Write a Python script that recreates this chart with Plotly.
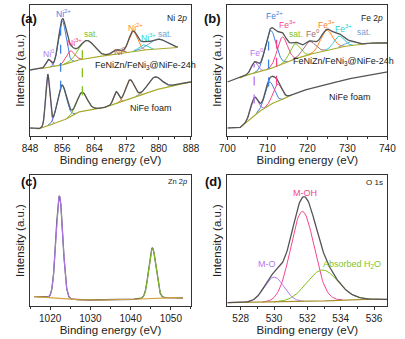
import numpy as np
import plotly.graph_objects as go

W, H = 405, 339

# ---------------- data ----------------
# Panel (a) Ni 2p  -- upper: FeNiZn/FeNi3@NiFe-24h, lower: NiFe foam
a_up_bg_E = [848, 852, 856, 860, 864, 868, 872, 876, 880, 884.7]
a_up_bg_I = [66, 68, 71, 76, 79, 81, 84, 86, 87, 88.5]
a_up_species = ["Ni0", "Ni2+", "Ni3+", "sat", "Ni0b", "Ni2+b", "Ni3+b", "satb"]
a_up_center = [852.6, 856.0, 858.0, 862.0, 869.5, 873.6, 876.2, 879.8]
a_up_height = [8, 44, 11.5, 18, 4, 20, 5, 10]
a_up_fwhm = [1.5, 2.2, 2.5, 4.5, 2.5, 2.5, 2.5, 5.0]

a_lo_bg_E = [848, 850, 852, 856, 860, 864, 866, 870, 874, 878, 882, 886, 888]
a_lo_bg_I = [8, 7, 10, 15, 24, 27, 28, 33, 39, 45, 49, 53, 54]
a_lo_species = ["Ni0", "Ni2+", "sat", "Ni0b", "Ni2+b", "satb"]
a_lo_center = [852.4, 855.9, 860.9, 869.4, 872.8, 879.0]
a_lo_height = [51, 36, 19, 12, 19, 13]
a_lo_fwhm = [1.2, 2.6, 3.0, 1.5, 2.5, 4.0]
a_dashed_E = [855.6, 861.0]
a_dashed_species = ["Ni2+", "sat"]

# Panel (b) Fe 2p
b_up_bg_E = [700, 703, 704, 708, 712, 716, 720, 724, 728, 732, 736, 740]
b_up_bg_I = [54, 58, 60, 64, 69, 76, 81, 85, 89, 91, 93, 93]
b_up_species = ["Fe0", "Fe2+", "Fe3+", "sat", "Fe0b", "Fe3+b", "Fe3+c", "satb"]
b_up_center = [706.8, 710.8, 713.7, 716.9, 720.5, 724.8, 727.9, 730.8]
b_up_height = [11, 38, 27, 15, 13, 20, 11, 4]
b_up_fwhm = [2.0, 3.2, 3.0, 3.0, 3.5, 3.5, 3.0, 3.0]

b_lo_bg_E = [700, 703, 705, 707.4, 710, 712, 714.6, 716, 719.4, 724, 729, 734, 740]
b_lo_bg_I = [8, 8, 14, 23, 30, 34, 38, 41, 46, 50, 56, 60, 64]
b_lo_species = ["Fe0", "Fe2+", "Fe3+"]
b_lo_center = [706.7, 710.5, 712.5]
b_lo_height = [18, 23, 17]
b_lo_fwhm = [2.2, 2.6, 2.6]
b_dashed_E = [706.7, 710.3, 712.3]
b_dashed_species = ["Fe0", "Fe2+", "Fe3+"]

# Panel (c) Zn 2p
c_bg_E = [1016, 1022, 1028, 1035, 1040, 1045, 1050, 1053]
c_bg_I = [9.3, 8, 6, 6, 6.5, 8, 8.5, 8]
c_species = ["Zn3/2", "Zn1/2"]
c_center = [1022.3, 1045.4]
c_height = [102, 50]
c_fwhm = [2.0, 2.1]

# Panel (d) O 1s
d_bg_E = [527.2, 529, 531, 533, 535, 536.8]
d_bg_I = [3.3, 3.5, 4.2, 5.0, 6.7, 6.7]
d_species = ["M-O", "M-OH", "H2O"]
d_center = [530.0, 531.7, 532.9]
d_height = [25, 90, 31]
d_fwhm = [1.4, 1.65, 2.2]

# ---------------- styles ----------------
COL = {
    "Ni0": "#B478F0", "Ni2+": "#3C82E6", "Ni3+": "#F2456E", "sat": "#82C31E",
    "Ni0b": "#9B6E6E", "Ni2+b": "#FF8228", "Ni3+b": "#28D2D2", "satb": "#78A0D2",
    "Fe0": "#B478F0", "Fe2+": "#3C82E6", "Fe3+": "#F5458F", "Fe0b": "#9B6E6E",
    "Fe3+b": "#FF8228", "Fe3+c": "#28D2D2",
    "Zn3/2": "#B478F0", "Zn1/2": "#82C31E",
    "M-O": "#B478F0", "M-OH": "#F5458F", "H2O": "#82C31E",
}
DATA_COL = "#555555"
BG_COL = {"a": "#A8AA2C", "b": "#A8AA2C", "c": "#D4A040", "d": "#A89030"}
FONT = "Liberation Sans, Arial, sans-serif"


def gauss(E, c, h, w):
    s = w / 2.3548
    return h * np.exp(-0.5 * ((E - c) / s) ** 2)


fig = go.Figure()


def add_spectrum(ax, E0, E1, bgE, bgI, species, centers, heights, fwhms,
                 bg_col, bg_range=None, data_range=None, comps_on_top=False):
    xa, ya = ax
    E = np.arange(E0, E1 + 1e-9, 0.05)
    bg = np.interp(E, bgE, bgI)
    comps = [gauss(E, c, h, w) for c, h, w in zip(centers, heights, fwhms)]
    env = bg + np.sum(comps, axis=0)
    if data_range is None:
        data_range = (E0, E1)
    md = (E >= data_range[0]) & (E <= data_range[1])
    data_trace = go.Scatter(x=E[md], y=env[md], mode="lines",
                            line=dict(color=DATA_COL, width=1.3),
                            xaxis=xa, yaxis=ya, hoverinfo="skip")
    if comps_on_top:
        fig.add_trace(data_trace)
    for sp, g in zip(species, comps):
        m = g > 0.25
        fig.add_trace(go.Scatter(x=E[m], y=(bg + g)[m], mode="lines",
                                 line=dict(color=COL[sp], width=1.0),
                                 xaxis=xa, yaxis=ya, hoverinfo="skip"))
    if bg_range is None:
        bg_range = (E0, E1)
    mb = (E >= bg_range[0]) & (E <= bg_range[1])
    fig.add_trace(go.Scatter(x=E[mb], y=bg[mb], mode="lines",
                             line=dict(color=bg_col, width=1.2),
                             xaxis=xa, yaxis=ya, hoverinfo="skip"))
    if not comps_on_top:
        fig.add_trace(data_trace)
    return E, env


# panel a
Eau, envau = add_spectrum(("x", "y"), 848, 884.7, a_up_bg_E, a_up_bg_I, a_up_species,
                          a_up_center, a_up_height, a_up_fwhm, BG_COL["a"],
                          bg_range=(850.5, 884.7))
Eal, enval = add_spectrum(("x", "y"), 848, 888, a_lo_bg_E, a_lo_bg_I, a_lo_species,
                          a_lo_center, a_lo_height, a_lo_fwhm, BG_COL["a"],
                          bg_range=(849.5, 888))
for e, sp in zip(a_dashed_E, a_dashed_species):
    y0 = np.interp(e, Eal, enval) - 3
    y1 = np.interp(e, Eau, envau) - 2
    fig.add_trace(go.Scatter(x=[e, e], y=[y0, y1], mode="lines",
                             line=dict(color=COL[sp], width=1.3, dash="dash"),
                             xaxis="x", yaxis="y", hoverinfo="skip"))

# panel b
Ebu, envbu = add_spectrum(("x2", "y2"), 700, 740, b_up_bg_E, b_up_bg_I, b_up_species,
                          b_up_center, b_up_height, b_up_fwhm, BG_COL["b"],
                          bg_range=(703, 740))
Ebl, envbl = add_spectrum(("x2", "y2"), 700, 740, b_lo_bg_E, b_lo_bg_I, b_lo_species,
                          b_lo_center, b_lo_height, b_lo_fwhm, BG_COL["b"],
                          bg_range=(703, 716))
for e, sp in zip(b_dashed_E, b_dashed_species):
    y0 = np.interp(e, Ebl, envbl) - 6
    y1 = np.interp(e, Ebu, envbu) - 2
    fig.add_trace(go.Scatter(x=[e, e], y=[y0, y1], mode="lines",
                             line=dict(color=COL[sp], width=1.3, dash="dash"),
                             xaxis="x2", yaxis="y2", hoverinfo="skip"))

# panel c
add_spectrum(("x3", "y3"), 1016, 1053, c_bg_E, c_bg_I, c_species, c_center,
             c_height, c_fwhm, BG_COL["c"], comps_on_top=True)
# panel d
add_spectrum(("x4", "y4"), 527.2, 536.8, d_bg_E, d_bg_I, d_species, d_center,
             d_height, d_fwhm, BG_COL["d"])

# ---------------- layout ----------------
def px2fx(px):
    return px / W


def py2fy(py):
    return (H - py) / H


top_y = [py2fy(136), py2fy(4.7)]
bot_y = [py2fy(306), py2fy(175)]
left_x = [px2fx(23), px2fx(191)]
right_x = [px2fx(229), px2fx(396)]

axcommon = dict(showline=True, linecolor="#333333", linewidth=1, mirror=True,
                showgrid=False, zeroline=False, ticks="outside", ticklen=3,
                tickwidth=1, tickcolor="#333333",
                tickfont=dict(family=FONT, size=10, color="#222222"),
                title=dict(text="Binding energy (eV)",
                           font=dict(family=FONT, size=11.5, color="#222222"),
                           standoff=2))
yaxcommon = dict(showline=True, linecolor="#333333", linewidth=1, mirror=True,
                 showgrid=False, zeroline=False, showticklabels=False, ticks="",
                 title=dict(text="Intensity (a.u.)",
                            font=dict(family=FONT, size=11.5, color="#222222"),
                            standoff=2))

fig.update_layout(
    width=W, height=H, margin=dict(l=0, r=0, t=0, b=0),
    paper_bgcolor="white", plot_bgcolor="white", showlegend=False,
    font=dict(family=FONT),
    xaxis=dict(axcommon, domain=left_x, anchor="y", range=[848, 888], dtick=8,
               tick0=848, minor=dict(ticks="outside", ticklen=2, dtick=4, tick0=848,
                                     tickcolor="#333333")),
    yaxis=dict(yaxcommon, domain=top_y, anchor="x", range=[0, 131.3]),
    xaxis2=dict(axcommon, domain=right_x, anchor="y2", range=[700, 740], dtick=10,
                tick0=700, minor=dict(ticks="outside", ticklen=2, dtick=5, tick0=700,
                                      tickcolor="#333333")),
    yaxis2=dict(yaxcommon, domain=top_y, anchor="x2", range=[0, 131.3]),
    xaxis3=dict(axcommon, domain=left_x, anchor="y3", range=[1015, 1055], dtick=10,
                tick0=1020, minor=dict(ticks="outside", ticklen=2, dtick=5, tick0=1015,
                                       tickcolor="#333333")),
    yaxis3=dict(yaxcommon, domain=bot_y, anchor="x3", range=[0, 131]),
    xaxis4=dict(axcommon, domain=right_x, anchor="y4", range=[527.2, 536.8], dtick=2,
                tick0=528, minor=dict(ticks="outside", ticklen=2, dtick=1, tick0=527,
                                      tickcolor="#333333")),
    yaxis4=dict(yaxcommon, domain=bot_y, anchor="x4", range=[0, 131]),
)

ann = []


def lab(text, x, y, color, xref, yref, size=8, **kw):
    ann.append(dict(text=text, x=x, y=y, xref=xref, yref=yref, showarrow=False,
                    font=dict(family=FONT, size=size, color=color), **kw))


# panel letters
for t, px, py in [("(a)", 11, 9), ("(b)", 213, 9), ("(c)", 11, 181), ("(d)", 215, 181)]:
    lab("<b>%s</b>" % t, px2fx(px), py2fy(py), "#111111", "paper", "paper", size=13)

# corner element labels
lab("Ni 2<i>p</i>", px2fx(189), py2fy(11), "#222222", "paper", "paper", size=8.5,
    xanchor="right")
lab("Fe 2<i>p</i>", px2fx(394), py2fy(11), "#222222", "paper", "paper", size=8.5,
    xanchor="right")
lab("Zn 2<i>p</i>", px2fx(189), py2fy(181), "#222222", "paper", "paper", size=7.5,
    xanchor="right")
lab("O 1s", px2fx(394), py2fy(182), "#222222", "paper", "paper", size=8,
    xanchor="right")

# panel a peak labels
for t, e, v, sp in [("Ni<sup>2+</sup>", 856.2, 123, "Ni2+"), ("Ni<sup>0</sup>", 852.8, 83, "Ni0"),
                    ("Ni<sup>3+</sup>", 859.0, 94, "Ni3+"), ("sat.", 863.2, 102, "sat"),
                    ("Ni<sup>0</sup>", 870.3, 85, "Ni0b"), ("Ni<sup>2+</sup>", 874.1, 109, "Ni2+b"),
                    ("Ni<sup>3+</sup>", 877.5, 99, "Ni3+b"), ("sat.", 881.6, 102, "satb")]:
    lab(t, e, v, COL[sp], "x", "y", size=8.5)
lab("FeNiZn/FeNi<sub>3</sub>@NiFe-24h", 876.6, 71, "#222222", "x", "y", size=9)
lab("NiFe foam", 878.1, 27.7, "#222222", "x", "y", size=9)

# panel b peak labels
for t, e, v, sp in [("Fe<sup>2+</sup>", 711.8, 121, "Fe2+"), ("Fe<sup>3+</sup>", 715.0, 112, "Fe3+"),
                    ("sat.", 717.2, 101.7, "sat"), ("Fe<sup>0</sup>", 721.4, 102.7, "Fe0b"),
                    ("Fe<sup>3+</sup>", 724.8, 112, "Fe3+b"), ("Fe<sup>3+</sup>", 729.0, 107.7, "Fe3+c"),
                    ("sat.", 734.2, 104.3, "satb"), ("Fe<sup>0</sup>", 707.4, 83.3, "Fe0")]:
    lab(t, e, v, COL[sp], "x2", "y2", size=8.5)
lab("FeNiZn/FeNi<sub>3</sub>@NiFe-24h", 729.0, 74.3, "#222222", "x2", "y2", size=9)
lab("NiFe foam", 730.7, 39.3, "#222222", "x2", "y2", size=9)

# panel d labels
lab("M-OH", 531.86, 113.3, COL["M-OH"], "x4", "y4", size=9)
lab("M-O", 529.6, 41.7, COL["M-O"], "x4", "y4", size=9)
lab("Absorbed H<sub>2</sub>O", 534.7, 41.7, COL["H2O"], "x4", "y4", size=9)

fig.update_layout(annotations=ann)
fig.write_html("out.html")
